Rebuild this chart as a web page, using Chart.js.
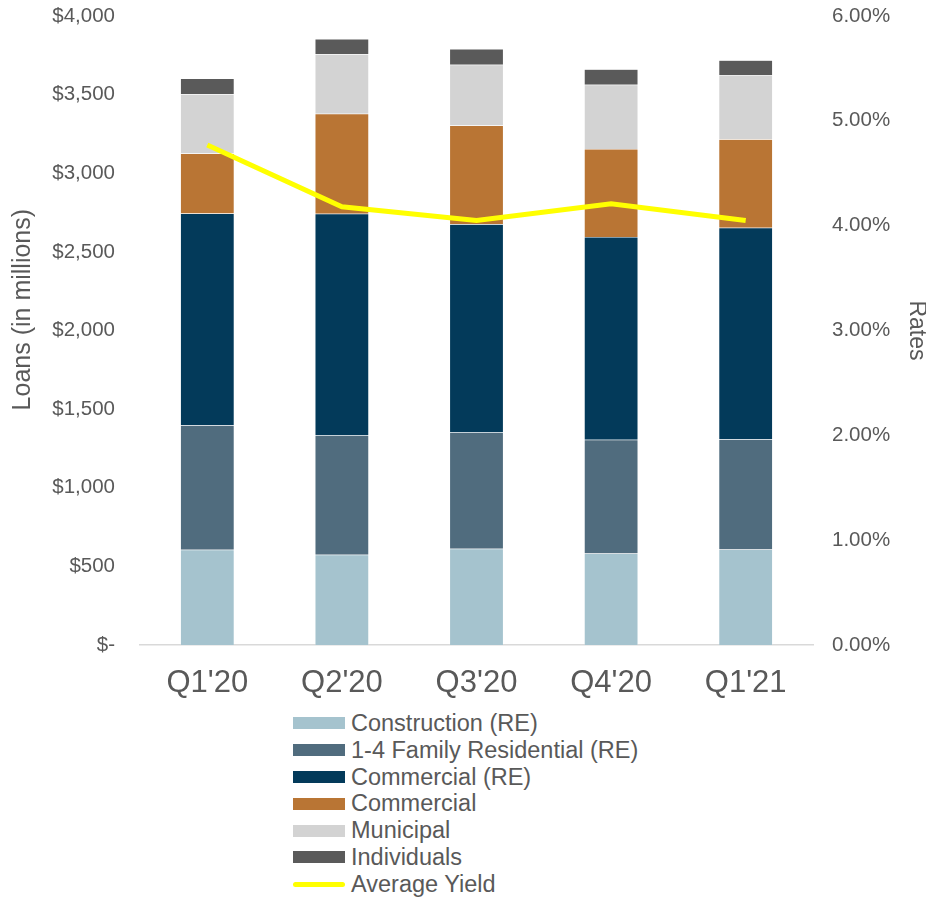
<!DOCTYPE html>
<html>
<head>
<meta charset="utf-8">
<script src="https://cdn.jsdelivr.net/npm/chart.js@4.4.1/dist/chart.umd.min.js"></script>
<style>
    body { margin: 0; background: #fff; font-family: "Liberation Sans", Arial, sans-serif; }
    #wrap { position: relative; width: 926px; height: 898px; }
    #chartBox { position: absolute; left: 0; top: 0; width: 926px; height: 705px; }
    #legend { position: absolute; left: 293px; top: 710px; }
    .item { height: 26.8px; display: flex; align-items: center; font-size: 23.5px; color: #595959; white-space: nowrap; }
    .swatch { width: 52px; height: 12px; margin-right: 6px; }
    .swatch.line { height: 5px; border-radius: 3px; }
</style>
</head>
<body>
<div id="wrap">
    <div id="chartBox"><canvas id="loanChart"></canvas></div>
    <div id="legend"></div>
</div>
<script>
//-----------------------------------------------------
// Loan portfolio by type with average yield
//-----------------------------------------------------

const quarters = ["Q1'20", "Q2'20", "Q3'20", "Q4'20", "Q1'21"];

// loan balances, $ millions
const construction = [606, 574, 612, 582, 608];
const family14 = [791, 759, 740, 724, 700];
const commercialRE = [1347, 1409, 1324, 1289, 1345];
const commercial = [382, 636, 628, 559, 564];
const municipal = [376, 378, 386, 409, 408];
const individuals = [101, 98, 100, 98, 93];

// average yield, %
const avgYield = [4.77, 4.18, 4.05, 4.21, 4.05];

const tickColor = '#595959';
const fontFamily = '"Liberation Sans", Arial, sans-serif';

function barSet(label, data, color) {
    return {
        type: 'bar',
        label: label,
        data: data,
        backgroundColor: color,
        borderColor: 'rgba(255,255,255,0.35)',
        borderWidth: 0.5,
        yAxisID: 'y',
        stack: 'loans',
        order: 1,
        categoryPercentage: 1.0,
        barPercentage: 0.4
    };
}

const datasets = [
    barSet('Construction (RE)', construction, '#A5C3CE'),
    barSet('1-4 Family Residential (RE)', family14, '#506C7E'),
    barSet('Commercial (RE)', commercialRE, '#033A5A'),
    barSet('Commercial', commercial, '#B97534'),
    barSet('Municipal', municipal, '#D3D3D3'),
    barSet('Individuals', individuals, '#5A5A5A'),
    {
        type: 'line',
        label: 'Average Yield',
        data: avgYield,
        borderColor: '#FFFF00',
        backgroundColor: '#FFFF00',
        borderWidth: 5,
        pointRadius: 0,
        tension: 0,
        fill: false,
        yAxisID: 'y1',
        order: 0
    }
];

const chart = new Chart(document.getElementById('loanChart').getContext('2d'), {
    data: { labels: quarters, datasets: datasets },
    options: {
        responsive: true,
        maintainAspectRatio: false,
        animation: false,
        layout: { padding: { top: 16, bottom: 0, left: 0, right: 0 } },
        plugins: {
            legend: { display: false },
            tooltip: { enabled: false }
        },
        scales: {
            x: {
                stacked: true,
                grid: { display: false, drawTicks: false },
                border: { display: true, color: '#D9D9D9', width: 1.5 },
                ticks: {
                    color: tickColor,
                    padding: 20,
                    font: { family: fontFamily, size: 31 }
                },
                afterFit: function(scale) { scale.height = 60; }
            },
            y: {
                stacked: true,
                position: 'left',
                min: 0,
                max: 4000,
                // tick marks hidden, their length only spaces the labels
                grid: { display: false, drawTicks: true, tickLength: 25 },
                border: { display: false },
                ticks: {
                    stepSize: 500,
                    color: tickColor,
                    padding: 0,
                    font: { family: fontFamily, size: 20.5 },
                    callback: function(value) {
                        if (value === 0) return '$-';
                        return '$' + value.toLocaleString('en-US');
                    }
                },
                title: {
                    display: true,
                    // leading spaces nudge the rotated title up a little
                    text: '      Loans (in millions)',
                    color: tickColor,
                    font: { family: fontFamily, size: 25 },
                    padding: { top: 8, bottom: 0 }
                },
                afterFit: function(scale) { scale.width = 140; }
            },
            y1: {
                position: 'right',
                min: 0,
                max: 6,
                grid: { display: false, drawTicks: true, tickLength: 19 },
                border: { display: false },
                ticks: {
                    stepSize: 1,
                    color: tickColor,
                    padding: 0,
                    font: { family: fontFamily, size: 20.5 },
                    callback: function(value) {
                        return value.toFixed(2) + '%';
                    }
                },
                title: {
                    display: true,
                    text: 'Rates',
                    color: tickColor,
                    font: { family: fontFamily, size: 23, lineHeight: 1 },
                    padding: { top: -2, bottom: 0 }
                },
                afterFit: function(scale) { scale.width = 113; }
            }
        }
    }
});

// legend below the chart, one item per row
const legendBox = document.getElementById('legend');
chart.data.datasets.forEach(ds => {
    const row = document.createElement('div');
    row.className = 'item';
    const sw = document.createElement('span');
    sw.className = ds.type === 'line' ? 'swatch line' : 'swatch';
    sw.style.background = ds.type === 'line' ? ds.borderColor : ds.backgroundColor;
    const txt = document.createElement('span');
    txt.textContent = ds.label;
    row.appendChild(sw);
    row.appendChild(txt);
    legendBox.appendChild(row);
});
</script>
</body>
</html>
